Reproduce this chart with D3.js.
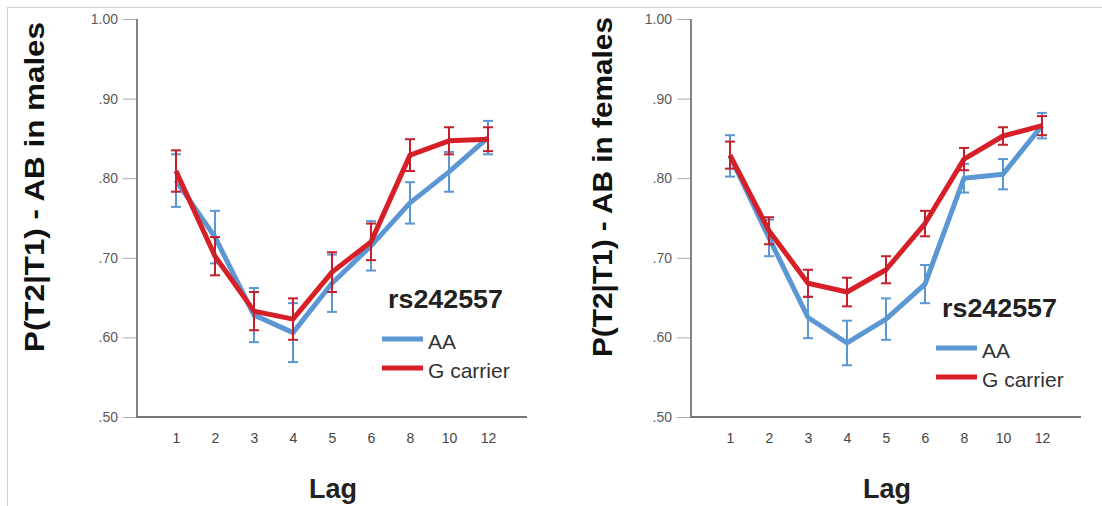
<!DOCTYPE html>
<html>
<head>
<meta charset="utf-8">
<script src="https://cdn.jsdelivr.net/npm/d3@7"></script>
<style>
  body { margin: 0; background: #fff; }
  svg { display: block; font-family: "Liberation Sans", Arial, sans-serif; }
</style>
</head>
<body>
<svg id="chart" width="1102" height="506"></svg>
<script>
"use strict"

// categories (Lag)
var lags = ["1", "2", "3", "4", "5", "6", "8", "10", "12"];
var yTicks = [0.5, 0.6, 0.7, 0.8, 0.9, 1.0];

// males
var malesAA      = [0.797, 0.726, 0.628, 0.606, 0.668, 0.715, 0.769, 0.808, 0.851];
var malesAAErr   = [0.033, 0.033, 0.034, 0.037, 0.036, 0.031, 0.026, 0.025, 0.021];
var malesG       = [0.809, 0.702, 0.633, 0.623, 0.682, 0.720, 0.829, 0.847, 0.849];
var malesGErr    = [0.026, 0.024, 0.024, 0.026, 0.025, 0.023, 0.020, 0.017, 0.015];

// females
var femalesAA    = [0.828, 0.725, 0.625, 0.593, 0.623, 0.667, 0.800, 0.805, 0.866];
var femalesAAErr = [0.026, 0.023, 0.026, 0.028, 0.026, 0.024, 0.018, 0.019, 0.016];
var femalesG     = [0.829, 0.734, 0.668, 0.657, 0.685, 0.743, 0.824, 0.853, 0.866];
var femalesGErr  = [0.017, 0.017, 0.017, 0.018, 0.017, 0.016, 0.014, 0.011, 0.012];

var BLUE = "#5b97d2";
var RED = "#d71f27";
var RED_BAR = "#c4202c";

var svg = d3.select("#chart");

// light frame
svg.append("line").attr("x1", 8).attr("y1", 7.5).attr("x2", 1102).attr("y2", 7.5)
	.attr("stroke", "#d0d0d0").attr("stroke-width", 1);
svg.append("line").attr("x1", 7.5).attr("y1", 7).attr("x2", 7.5).attr("y2", 506)
	.attr("stroke", "#d0d0d0").attr("stroke-width", 1);

function drawPanel(left, yLabel, labelX, labelLen, aa, aaErr, g, gErr, legendTop) {
	var x = d3.scalePoint().domain(lags).range([left, left + 390]).padding(1);
	var y = d3.scaleLinear().domain([0.5, 1.0]).range([417, 19]);
	var panel = svg.append("g");

	// y axis
	var yAxis = d3.axisLeft(y).tickValues(yTicks).tickSize(14).tickPadding(5)
		.tickFormat(function(d) { return d === 1 ? "1.00" : d3.format(".2f")(d).replace(/^0/, ""); });
	var ya = panel.append("g").attr("transform", "translate(" + left + ",0)").call(yAxis);
	ya.select(".domain").remove();
	ya.selectAll(".tick line").attr("stroke", "#aaa").attr("stroke-width", 1);
	ya.selectAll(".tick text").attr("fill", "#5a5a5a").style("font-size", "14px");
	panel.append("line").attr("x1", left).attr("x2", left).attr("y1", 19).attr("y2", 418)
		.attr("stroke", "#666").attr("stroke-width", 1.6);

	// x axis
	var xAxis = d3.axisBottom(x).tickSize(0).tickPadding(16);
	var xa = panel.append("g").attr("transform", "translate(0,417)").call(xAxis);
	xa.select(".domain").remove();
	xa.selectAll(".tick text").attr("fill", "#444").style("font-size", "14px");
	panel.append("line").attr("x1", left).attr("x2", left + 390).attr("y1", 417).attr("y2", 417)
		.attr("stroke", "#777").attr("stroke-width", 1.8);

	// axis titles
	panel.append("text")
		.attr("transform", "translate(" + labelX + ",187) rotate(-90)")
		.attr("text-anchor", "middle").attr("font-weight", "bold")
		.attr("textLength", labelLen).attr("lengthAdjust", "spacingAndGlyphs")
		.style("font-size", "28px").attr("fill", "#111").text(yLabel);
	panel.append("text")
		.attr("x", left + 196).attr("y", 498)
		.attr("text-anchor", "middle").attr("font-weight", "bold")
		.style("font-size", "27px").attr("fill", "#222").text("Lag");

	var line = d3.line().x(function(d, i) { return x(lags[i]); }).y(function(d) { return y(d); });

	function series(vals, errs, color, barColor) {
		panel.append("path").datum(vals).attr("d", line)
			.attr("fill", "none").attr("stroke", color).attr("stroke-width", 5)
			.attr("stroke-linejoin", "round");
		var eb = panel.append("g").selectAll("g").data(vals).enter().append("g");
		eb.append("line")
			.attr("x1", function(d, i) { return x(lags[i]); })
			.attr("x2", function(d, i) { return x(lags[i]); })
			.attr("y1", function(d, i) { return y(d + errs[i]); })
			.attr("y2", function(d, i) { return y(d - errs[i]); })
			.attr("stroke", barColor).attr("stroke-width", 2);
		[1, -1].forEach(function(s) {
			eb.append("line")
				.attr("x1", function(d, i) { return x(lags[i]) - 5; })
				.attr("x2", function(d, i) { return x(lags[i]) + 5; })
				.attr("y1", function(d, i) { return y(d + s * errs[i]); })
				.attr("y2", function(d, i) { return y(d + s * errs[i]); })
				.attr("stroke", barColor).attr("stroke-width", 2);
		});
	}
	series(aa, aaErr, BLUE, BLUE);
	series(g, gErr, RED, RED_BAR);

	// legend
	var lg = panel.append("g").attr("transform", "translate(" + (left + 245) + "," + legendTop + ")");
	lg.append("text").attr("x", 6).attr("y", 10).attr("font-weight", "bold")
		.attr("textLength", 115).attr("lengthAdjust", "spacingAndGlyphs")
		.style("font-size", "26px").attr("fill", "#222").text("rs242557");
	lg.append("line").attr("x1", 0).attr("x2", 41).attr("y1", 41).attr("y2", 41)
		.attr("stroke", BLUE).attr("stroke-width", 5);
	lg.append("text").attr("x", 46).attr("y", 51).style("font-size", "21px").attr("fill", "#333").text("AA");
	lg.append("line").attr("x1", 0).attr("x2", 41).attr("y1", 70).attr("y2", 70)
		.attr("stroke", RED).attr("stroke-width", 5);
	lg.append("text").attr("x", 46).attr("y", 80).style("font-size", "21px").attr("fill", "#333").text("G carrier");
}

drawPanel(137, "P(T2|T1) - AB in males", 44, 330, malesAA, malesAAErr, malesG, malesGErr, 298);
drawPanel(691, "P(T2|T1) - AB in females", 612, 340, femalesAA, femalesAAErr, femalesG, femalesGErr, 307);
</script>
</body>
</html>
